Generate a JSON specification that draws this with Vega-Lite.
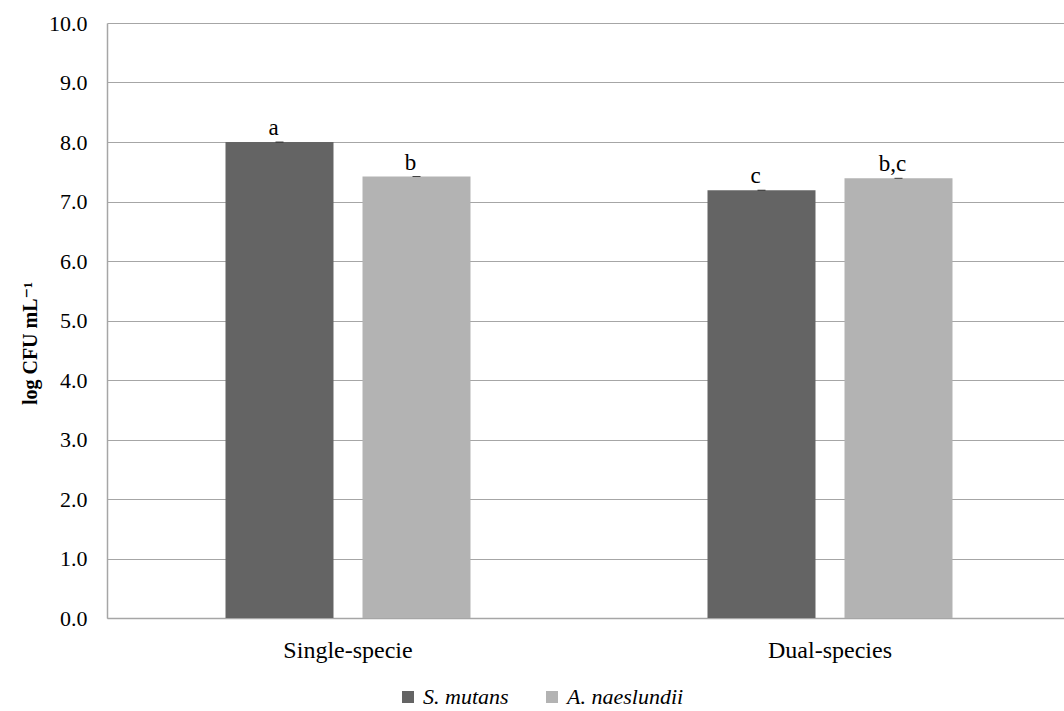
{
  "$schema": "https://vega.github.io/schema/vega-lite/v6.json",
  "width": 964,
  "height": 595,
  "autosize": "none",
  "padding": {"left": 107, "top": 23, "right": 0, "bottom": 93},
  "background": "white",
  "config": {
    "font": "Times New Roman, Liberation Serif, DejaVu Serif, serif",
    "axis": {"labelFont": "Times New Roman, Liberation Serif, DejaVu Serif, serif", "titleFont": "Times New Roman, Liberation Serif, DejaVu Serif, serif"},
    "legend": {"labelFont": "Times New Roman, Liberation Serif, DejaVu Serif, serif"},
    "text": {"font": "Times New Roman, Liberation Serif, DejaVu Serif, serif"},
    "view": {"stroke": null}
  },
  "data": {
    "values": [
      {"group": "Single-specie", "species": "S. mutans", "value": 8.0, "label": "a"},
      {"group": "Single-specie", "species": "A. naeslundii", "value": 7.42, "label": "b"},
      {"group": "Dual-species", "species": "S. mutans", "value": 7.19, "label": "c"},
      {"group": "Dual-species", "species": "A. naeslundii", "value": 7.39, "label": "b,c"}
    ]
  },
  "encoding": {
    "x": {
      "field": "group",
      "type": "nominal",
      "sort": ["Single-specie", "Dual-species"],
      "scale": {"paddingInner": 0, "paddingOuter": 0},
      "axis": {
        "title": null,
        "labelAngle": 0,
        "labelFontSize": 24,
        "labelColor": "#000000",
        "labelPadding": 20,
        "ticks": false,
        "domainColor": "#a6a6a6",
        "domainWidth": 1.5,
        "grid": false
      }
    },
    "xOffset": {
      "field": "species",
      "type": "nominal",
      "sort": ["S. mutans", "A. naeslundii"],
      "scale": {"paddingInner": 0.2117, "paddingOuter": 0.865}
    }
  },
  "layer": [
    {
      "mark": {"type": "bar"},
      "encoding": {
        "y": {
          "field": "value",
          "type": "quantitative",
          "scale": {"domain": [0, 10], "nice": false},
          "axis": {
            "title": "log CFU mL⁻¹",
            "titleFontSize": 20,
            "titleFontWeight": "bold",
            "titleColor": "#000000",
            "titleX": -77,
            "titleY": 320,
            "titleAngle": -90,
            "titleAlign": "center",
            "titleBaseline": "middle",
            "values": [0, 1, 2, 3, 4, 5, 6, 7, 8, 9, 10],
            "format": ".1f",
            "labelFontSize": 22,
            "labelColor": "#000000",
            "labelPadding": 20,
            "ticks": false,
            "domainColor": "#a6a6a6",
            "domainWidth": 1.5,
            "gridColor": "#a6a6a6",
            "gridWidth": 1
          }
        },
        "color": {
          "field": "species",
          "type": "nominal",
          "sort": ["S. mutans", "A. naeslundii"],
          "scale": {"domain": ["S. mutans", "A. naeslundii"], "range": ["#646464", "#b3b3b3"]},
          "legend": {
            "title": null,
            "orient": "none",
            "direction": "horizontal",
            "legendX": 290,
            "legendY": 663,
            "symbolType": "square",
            "symbolSize": 144,
            "symbolStrokeWidth": 0,
            "labelFontSize": 22,
            "labelFontStyle": "italic",
            "labelColor": "#000000",
            "labelOffset": 4,
            "columnPadding": 32
          }
        }
      }
    },
    {
      "mark": {"type": "tick", "color": "#000000", "thickness": 1, "size": 8},
      "encoding": {
        "y": {"field": "value", "type": "quantitative"}
      }
    },
    {
      "mark": {"type": "text", "fontSize": 23, "baseline": "alphabetic", "dy": -7, "dx": -6, "color": "#000000"},
      "encoding": {
        "y": {"field": "value", "type": "quantitative"},
        "text": {"field": "label"}
      }
    }
  ]
}
